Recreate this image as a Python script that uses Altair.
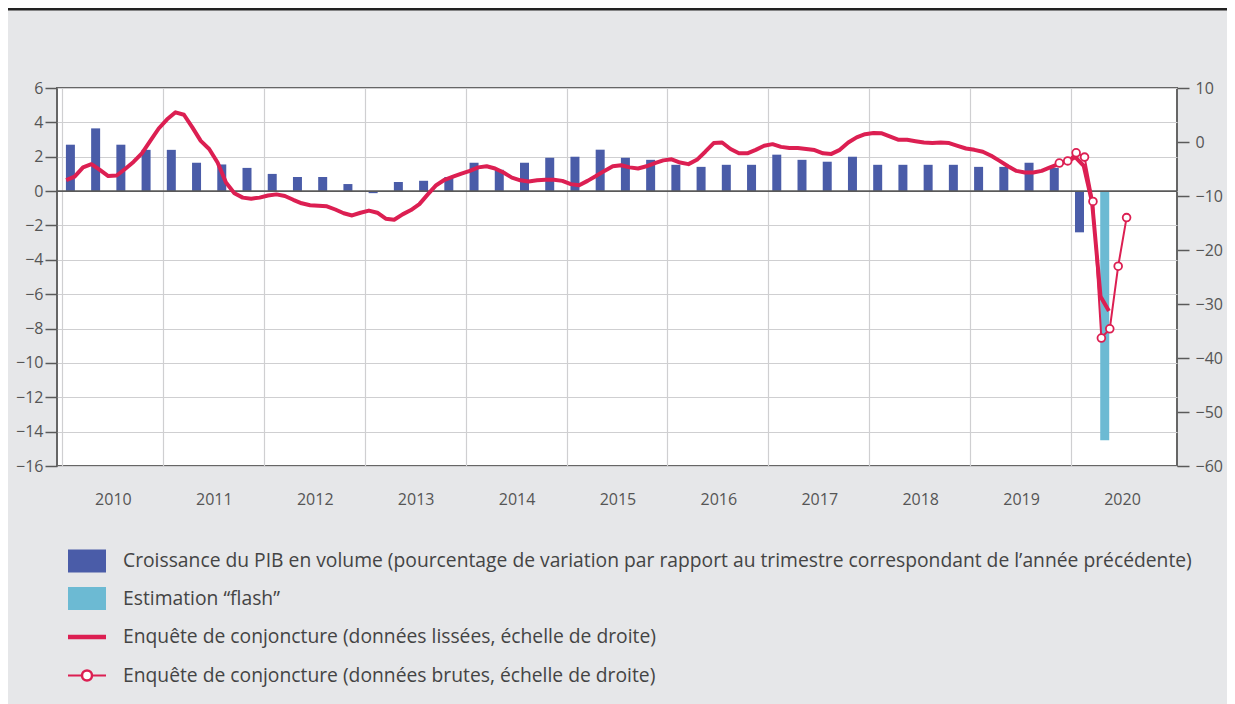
import altair as alt
import pandas as pd

# ---------------- data ----------------
gdp_years = [2010]*4 + [2011]*4 + [2012]*4 + [2013]*4 + [2014]*4 + [2015]*4 + \
            [2016]*4 + [2017]*4 + [2018]*4 + [2019]*4 + [2020]*2
gdp_quarters = [1, 2, 3, 4]*10 + [1, 2]
gdp_values = [2.7, 3.65, 2.7, 2.4,
              2.4, 1.65, 1.55, 1.35,
              1.0, 0.82, 0.82, 0.41,
              -0.12, 0.53, 0.6, 0.82,
              1.65, 1.24, 1.65, 1.94,
              2.0, 2.41, 1.94, 1.82,
              1.53, 1.41, 1.53, 1.53,
              2.12, 1.82, 1.71, 2.0,
              1.53, 1.53, 1.53, 1.53,
              1.41, 1.41, 1.65, 1.35,
              -2.4, -14.5]
gdp_types = ["PIB"]*41 + ["flash"]

smooth_start = "2010-01"
smooth_values = [
    -7.07, -6.4, -4.7, -4.1, -5.15, -6.3, -6.2, -5.0, -3.7, -2.1, 0.2, 2.5,
    4.2, 5.5, 5.05, 2.7, 0.2, -1.3, -3.8, -7.5, -9.5, -10.3, -10.5, -10.3,
    -9.9, -9.7, -10.0, -10.7, -11.35, -11.7, -11.8, -11.9, -12.5, -13.2, -13.6, -13.1,
    -12.7, -13.1, -14.2, -14.4, -13.4, -12.6, -11.5, -9.7, -8.0, -7.0, -6.4, -5.85,
    -5.35, -4.7, -4.5, -4.9, -5.65, -6.6, -7.1, -7.3, -7.1, -7.0, -7.0, -7.2,
    -7.8, -8.0, -7.2, -6.3, -5.35, -4.5, -4.3, -4.7, -4.9, -4.5, -3.9, -3.4,
    -3.2, -3.8, -4.1, -3.3, -1.8, -0.2, -0.1, -1.3, -2.1, -2.1, -1.45, -0.7,
    -0.4, -0.9, -1.1, -1.1, -1.3, -1.5, -2.1, -2.2, -1.45, -0.1, 0.85, 1.45,
    1.65, 1.6, 1.0, 0.4, 0.4, 0.15, -0.1, -0.2, -0.1, -0.2, -0.7, -1.2,
    -1.45, -1.8, -2.55, -3.5, -4.5, -5.35, -5.65, -5.65, -5.35, -4.7, -4.1, -3.6,
    -2.8, -4.4, -11.2, -28.6, -31.3,
]

raw_start = "2019-11"
raw_values = [-3.9, -3.5, -2.0, -2.8, -11.0, -36.3, -34.6, -23.0, -14.0]

year_labels = list(range(2010, 2021))
left_ticks = list(range(-16, 7, 2))
right_ticks = list(range(-60, 11, 10))

legend_labels = [
    "Croissance du PIB en volume (pourcentage de variation par rapport au trimestre correspondant de l\u2019ann\u00e9e pr\u00e9c\u00e9dente)",
    "Estimation \u201cflash\u201d",
    "Enqu\u00eate de conjoncture (donn\u00e9es liss\u00e9es, \u00e9chelle de droite)",
    "Enqu\u00eate de conjoncture (donn\u00e9es brutes, \u00e9chelle de droite)",
]

# ---------------- tables ----------------
bars = pd.DataFrame({"year": gdp_years, "q": gdp_quarters, "gdp": gdp_values, "type": gdp_types})
bars["t"] = bars["year"] + (3 * bars["q"] - 2) / 12.0

sm_months = pd.date_range(smooth_start, periods=len(smooth_values), freq="MS")
smooth = pd.DataFrame({"t": sm_months.year + (sm_months.month - 0.5) / 12.0, "v": smooth_values})

raw_months = pd.date_range(raw_start, periods=len(raw_values), freq="MS")
raw = pd.DataFrame({"t": raw_months.year + (raw_months.month - 0.4) / 12.0, "v": raw_values})

dummy = pd.DataFrame({"a": [0]})
zero_df = pd.DataFrame({"gdp": [0]})

# ---------------- style ----------------
FONT = "Open Sans"
BLUE = "#4a5ca8"
CYAN = "#6cbad3"
RED = "#dc1f52"
GRID = "#cfcfd1"
AXC = "#5a5a5a"
LAB = "#555555"
BG = "#e6e7e9"
W, H = 1120, 378
PL, PT = 49, 80
PR, PB = 50, 238

minus_expr = "datum.value < 0 ? '\u2212' + abs(datum.value) : '' + datum.value"

x_enc = alt.X(
    "t:Q",
    scale=alt.Scale(domain=[2010, 2021], nice=False, zero=False),
    axis=alt.Axis(values=year_labels, format="d", labelOffset=W / 11 / 2, ticks=False,
                  domain=False, grid=True, gridColor=GRID, gridWidth=1.2, labelPadding=25,
                  labelFlush=False, labelOverlap=False, title=None),
)
x_plain = alt.X("t:Q")

y_left = alt.Y(
    "gdp:Q",
    scale=alt.Scale(domain=[-16, 6], nice=False),
    axis=alt.Axis(values=left_ticks, grid=True, gridColor=GRID, gridWidth=1.2, tickSize=12,
                  tickColor=AXC, tickWidth=1.5, domain=False, labelPadding=2,
                  labelOverlap=False, labelFlush=False, labelBound=False,
                  labelExpr=minus_expr, title=None),
)
y_right = alt.Y(
    "v:Q",
    scale=alt.Scale(domain=[-60, 10], nice=False),
    axis=alt.Axis(orient="right", values=right_ticks, grid=False, tickSize=12,
                  tickColor=AXC, tickWidth=1.5, domain=False, labelPadding=6,
                  labelOverlap=False, labelFlush=False, labelBound=False,
                  labelExpr=minus_expr, title=None),
)

bar_layer = alt.Chart(bars).mark_bar(size=9).encode(
    x=x_enc,
    y=y_left,
    color=alt.Color("type:N", scale=alt.Scale(domain=["PIB", "flash"], range=[BLUE, CYAN]), legend=None),
)
zero_rule = alt.Chart(zero_df).mark_rule(color=AXC, strokeWidth=1.6).encode(y=y_left)

# legend (manual)
leg_y = [473, 510.5, 549, 587.5]
legend_layers = [
    alt.Chart(dummy).mark_rect(color=BLUE).encode(
        x=alt.value(11), x2=alt.value(49), y=alt.value(leg_y[0] - 11.5), y2=alt.value(leg_y[0] + 11.5)),
    alt.Chart(dummy).mark_rect(color=CYAN).encode(
        x=alt.value(11), x2=alt.value(49), y=alt.value(leg_y[1] - 11.5), y2=alt.value(leg_y[1] + 11.5)),
    alt.Chart(dummy).mark_rule(color=RED, strokeWidth=4.5).encode(
        x=alt.value(11), x2=alt.value(49), y=alt.value(leg_y[2])),
    alt.Chart(dummy).mark_rule(color=RED, strokeWidth=2.2).encode(
        x=alt.value(11), x2=alt.value(49), y=alt.value(leg_y[3])),
    alt.Chart(dummy).mark_point(shape="circle", filled=True, fill="white", stroke=RED,
                                strokeWidth=2.5, size=100, opacity=1).encode(
        x=alt.value(30), y=alt.value(leg_y[3])),
]
for lbl, yy in zip(legend_labels, leg_y):
    legend_layers.append(
        alt.Chart(dummy).mark_text(align="left", baseline="middle", font=FONT, fontSize=19.3,
                                   color="#444444").encode(
            x=alt.value(66), y=alt.value(yy), text=alt.value(lbl))
    )

top_line = alt.Chart(dummy).mark_rule(color="#222222", strokeWidth=2.6).encode(
    x=alt.value(-PL), x2=alt.value(W + PR), y=alt.value(-PT + 1.3))

left_group = alt.layer(bar_layer, zero_rule, top_line, *legend_layers)

smooth_layer = alt.Chart(smooth).mark_line(color=RED, strokeWidth=4, strokeJoin="round").encode(
    x=x_plain, y=y_right)
raw_line = alt.Chart(raw).mark_line(color=RED, strokeWidth=2).encode(x=x_plain, y=y_right)
raw_pts = alt.Chart(raw).mark_point(shape="circle", filled=True, fill="white", stroke=RED,
                                    strokeWidth=1.8, size=60, opacity=1).encode(
    x=x_plain, y=y_right)

right_group = alt.layer(smooth_layer, raw_line, raw_pts)

chart = alt.layer(left_group, right_group).resolve_scale(y="independent").properties(
    width=W, height=H,
    autosize=alt.AutoSizeParams(type="none"),
    padding={"left": PL, "top": PT, "right": PR, "bottom": PB},
    background=BG,
).configure_view(
    fill="white", stroke="#666666", strokeWidth=2
).configure_axis(
    labelFont=FONT, labelFontSize=16, labelColor=LAB
)

chart.save("out.html", embed_options={"renderer": "svg", "actions": False})
